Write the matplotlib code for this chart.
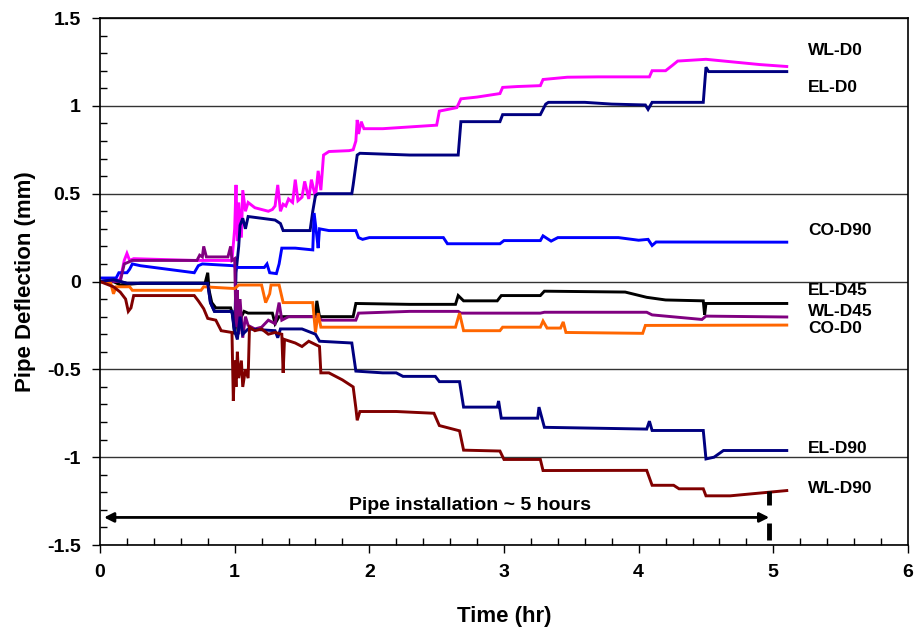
import matplotlib
matplotlib.use("Agg")
import matplotlib.pyplot as plt
import matplotlib.ticker as mticker

plt.rcParams["font.family"] = ["Liberation Sans", "DejaVu Sans"]
plt.rcParams["font.weight"] = "bold"

# ── Data (time in hr, deflection in mm) ───────────────────────────────────────

wl_d0 = [(0, 0), (0.15, 0.01), (0.18, 0.12), (0.2, 0.16), (0.22, 0.12), (0.25, 0.13),
         (0.7, 0.12), (0.98, 0.12), (1.0, 0.3), (1.01, 0.55), (1.02, 0.23), (1.03, 0.45),
         (1.05, 0.25), (1.06, 0.52), (1.08, 0.40), (1.1, 0.45), (1.15, 0.42), (1.25, 0.40),
         (1.28, 0.41), (1.3, 0.43), (1.32, 0.55), (1.34, 0.40), (1.36, 0.44), (1.38, 0.43),
         (1.4, 0.47), (1.43, 0.45), (1.45, 0.58), (1.47, 0.46), (1.5, 0.48), (1.52, 0.57),
         (1.55, 0.47), (1.57, 0.58), (1.6, 0.48), (1.62, 0.63), (1.64, 0.52), (1.66, 0.72),
         (1.7, 0.74), (1.85, 0.745), (1.88, 0.75), (1.9, 0.80), (1.91, 0.92), (1.92, 0.84),
         (1.94, 0.91), (1.96, 0.87), (2.1, 0.87), (2.3, 0.88), (2.5, 0.89), (2.52, 0.97),
         (2.65, 0.99), (2.68, 1.04), (2.8, 1.05), (2.97, 1.07), (2.99, 1.105), (3.1, 1.11),
         (3.27, 1.115), (3.29, 1.15), (3.47, 1.163), (3.7, 1.165), (4.08, 1.165),
         (4.1, 1.20), (4.2, 1.20), (4.25, 1.23), (4.29, 1.255), (4.5, 1.265), (4.7, 1.25),
         (4.9, 1.235), (5.1, 1.224)]

el_d0 = [(0, 0), (0.1, 0.01), (0.2, -0.01), (0.8, -0.01), (0.82, -0.12), (0.85, -0.17),
         (0.98, -0.17), (1.0, -0.3), (1.01, 0.05), (1.03, 0.2), (1.04, 0.32), (1.06, 0.36),
         (1.08, 0.30), (1.1, 0.37), (1.2, 0.36), (1.3, 0.35), (1.34, 0.33), (1.36, 0.29),
         (1.56, 0.29), (1.58, 0.40), (1.6, 0.49), (1.62, 0.5), (1.87, 0.5), (1.88, 0.55),
         (1.91, 0.72), (1.93, 0.73), (2.3, 0.72), (2.66, 0.72), (2.68, 0.91), (2.97, 0.91),
         (2.99, 0.95), (3.27, 0.95), (3.31, 1.01), (3.33, 1.02), (3.6, 1.02), (3.8, 1.01),
         (4.05, 1.005), (4.07, 0.98), (4.1, 1.02), (4.48, 1.02), (4.5, 1.22), (4.52, 1.195),
         (5.1, 1.195)]

co_d90 = [(0, 0.02), (0.12, 0.02), (0.14, 0.05), (0.2, 0.05), (0.22, 0.07), (0.24, 0.10),
          (0.3, 0.09), (0.4, 0.08), (0.5, 0.07), (0.6, 0.06), (0.7, 0.05), (0.73, 0.09),
          (0.76, 0.10), (0.99, 0.09), (1.02, 0.08), (1.22, 0.08), (1.24, 0.10), (1.26, 0.05),
          (1.31, 0.045), (1.33, 0.10), (1.35, 0.19), (1.45, 0.19), (1.58, 0.18),
          (1.59, 0.39), (1.61, 0.26), (1.62, 0.19), (1.63, 0.30), (1.7, 0.29), (1.9, 0.29),
          (1.92, 0.25), (1.95, 0.24), (2.0, 0.25), (2.55, 0.25), (2.58, 0.215),
          (2.97, 0.215), (3.0, 0.233), (3.27, 0.233), (3.29, 0.26), (3.35, 0.23),
          (3.4, 0.25), (3.85, 0.25), (4.0, 0.235), (4.07, 0.24), (4.1, 0.205),
          (4.13, 0.225), (5.1, 0.224)]

el_d45 = [(0, 0), (0.1, 0), (0.15, -0.02), (0.3, -0.01), (0.78, -0.01), (0.8, 0.05),
          (0.81, -0.05), (0.83, -0.12), (0.86, -0.15), (0.97, -0.15), (0.99, -0.2),
          (1.0, -0.3), (1.02, -0.15), (1.03, -0.28), (1.05, -0.2), (1.07, -0.17),
          (1.1, -0.18), (1.28, -0.18), (1.3, -0.24), (1.33, -0.2), (1.6, -0.2),
          (1.61, -0.11), (1.63, -0.2), (1.88, -0.2), (1.9, -0.125), (2.3, -0.13),
          (2.64, -0.13), (2.66, -0.08), (2.7, -0.11), (2.95, -0.11), (2.98, -0.08),
          (3.27, -0.08), (3.3, -0.055), (3.9, -0.06), (4.06, -0.09), (4.2, -0.105),
          (4.48, -0.11), (4.49, -0.19), (4.5, -0.125), (5.1, -0.125)]

wl_d45 = [(0, 0), (0.15, 0.0), (0.18, 0.1), (0.24, 0.12), (0.72, 0.12), (0.74, 0.15),
          (0.76, 0.14), (0.77, 0.20), (0.79, 0.14), (0.95, 0.14), (0.97, 0.20),
          (0.98, 0.12), (1.0, 0.13), (1.01, -0.26), (1.02, -0.05), (1.03, -0.3),
          (1.04, -0.1), (1.06, -0.32), (1.08, -0.2), (1.1, -0.25), (1.15, -0.27),
          (1.2, -0.26), (1.25, -0.22), (1.3, -0.24), (1.33, -0.12), (1.35, -0.22),
          (1.4, -0.2), (1.6, -0.2), (1.65, -0.22), (1.9, -0.22), (1.92, -0.18),
          (2.3, -0.17), (2.66, -0.17), (2.68, -0.18), (3.27, -0.18), (3.3, -0.175),
          (4.06, -0.175), (4.1, -0.19), (4.47, -0.216), (4.5, -0.197), (5.1, -0.202)]

co_d0 = [(0, 0), (0.08, -0.01), (0.1, -0.07), (0.12, -0.03), (0.22, -0.03),
         (0.24, -0.05), (0.75, -0.05), (0.77, -0.03), (1.0, -0.04), (1.03, -0.02),
         (1.2, -0.02), (1.23, -0.12), (1.26, -0.07), (1.27, -0.02), (1.33, -0.02),
         (1.36, -0.12), (1.58, -0.12), (1.6, -0.29), (1.62, -0.18), (1.64, -0.26),
         (2.3, -0.26), (2.64, -0.26), (2.67, -0.18), (2.7, -0.28), (2.97, -0.28),
         (2.99, -0.26), (3.27, -0.26), (3.29, -0.225), (3.32, -0.265), (3.42, -0.265),
         (3.44, -0.23), (3.46, -0.29), (4.03, -0.295), (4.05, -0.25), (5.1, -0.248)]

el_d90 = [(0, 0), (0.1, 0.01), (0.2, -0.01), (0.8, -0.01), (0.82, -0.12), (0.85, -0.17),
          (0.98, -0.17), (1.0, -0.28), (1.02, -0.33), (1.04, -0.2), (1.06, -0.3),
          (1.1, -0.27), (1.3, -0.28), (1.32, -0.32), (1.34, -0.27), (1.5, -0.27),
          (1.6, -0.3), (1.63, -0.34), (1.87, -0.35), (1.9, -0.51), (2.1, -0.52),
          (2.2, -0.52), (2.25, -0.54), (2.49, -0.54), (2.52, -0.57), (2.67, -0.57),
          (2.7, -0.715), (2.95, -0.715), (2.96, -0.68), (2.98, -0.778), (3.25, -0.778),
          (3.26, -0.715), (3.3, -0.83), (4.06, -0.84), (4.08, -0.795), (4.1, -0.848),
          (4.48, -0.848), (4.5, -1.01), (4.56, -1.0), (4.63, -0.962), (5.1, -0.962)]

wl_d90 = [(0, 0), (0.1, -0.03), (0.15, -0.06), (0.19, -0.1), (0.21, -0.17), (0.23, -0.15),
          (0.25, -0.08), (0.7, -0.08), (0.73, -0.11), (0.77, -0.155), (0.8, -0.21),
          (0.86, -0.22), (0.9, -0.28), (0.98, -0.29), (0.99, -0.68), (1.0, -0.45),
          (1.01, -0.6), (1.02, -0.4), (1.03, -0.55), (1.05, -0.45), (1.06, -0.6),
          (1.08, -0.5), (1.1, -0.55), (1.11, -0.26), (1.15, -0.28), (1.2, -0.27),
          (1.25, -0.3), (1.3, -0.29), (1.35, -0.3), (1.36, -0.52), (1.37, -0.33),
          (1.45, -0.35), (1.5, -0.37), (1.55, -0.34), (1.63, -0.37), (1.64, -0.52),
          (1.7, -0.52), (1.8, -0.56), (1.88, -0.6), (1.9, -0.72), (1.91, -0.79),
          (1.93, -0.74), (2.2, -0.74), (2.48, -0.75), (2.52, -0.82), (2.67, -0.85),
          (2.7, -0.96), (2.97, -0.965), (3.0, -1.013), (3.27, -1.013), (3.29, -1.076),
          (4.06, -1.075), (4.1, -1.16), (4.26, -1.16), (4.3, -1.18), (4.48, -1.18),
          (4.5, -1.22), (4.68, -1.22), (5.1, -1.19)]

# name, data, colour, label y position
series = [
    ("WL-D0",  wl_d0,  "#FF00FF", 1.315),
    ("EL-D0",  el_d0,  "#000080", 1.104),
    ("CO-D90", co_d90, "#0000FF", 0.29),
    ("EL-D45", el_d45, "#000000", -0.05),
    ("WL-D45", wl_d45, "#800080", -0.17),
    ("CO-D0",  co_d0,  "#FF6600", -0.27),
    ("EL-D90", el_d90, "#000080", -0.95),
    ("WL-D90", wl_d90, "#800000", -1.18),
]

install_end = 4.97

# ── Plot ──────────────────────────────────────────────────────────────────────

fig = plt.figure(figsize=(9.15, 6.3), dpi=100)
ax = fig.add_axes([0.1093, 0.1349, 0.8830, 0.8365])

for name, pts, color, ylab in series:
    t, y = zip(*pts)
    ax.plot(t, y, color=color, lw=2.1, solid_joinstyle="miter")
    ax.text(5.26, ylab, name, fontsize=12.5, fontweight="bold",
            va="center", ha="left", clip_on=False)

ax.set_xlim(0, 6)
ax.set_ylim(-1.5, 1.5)
ax.xaxis.set_major_locator(mticker.MultipleLocator(1))
ax.xaxis.set_minor_locator(mticker.MultipleLocator(0.2))
ax.yaxis.set_major_locator(mticker.MultipleLocator(0.5))
ax.yaxis.set_minor_locator(mticker.MultipleLocator(0.1))
ax.yaxis.set_major_formatter(mticker.FuncFormatter(lambda v, _: f"{v:g}"))
ax.xaxis.set_major_formatter(mticker.FuncFormatter(lambda v, _: f"{v:g}"))
ax.tick_params(which="major", direction="out", length=6, width=1,
               labelsize=14, pad=8)
ax.tick_params(which="minor", direction="in", length=5, width=1)
for lbl in ax.get_xticklabels() + ax.get_yticklabels():
    lbl.set_fontweight("bold")

ax.grid(True, axis="y", which="major", color="#333333", lw=1)
ax.set_axisbelow(True)
for sp in ax.spines.values():
    sp.set_linewidth(1.2)

ax.set_xlabel("Time (hr)", fontsize=16, fontweight="bold", labelpad=18)
ax.set_ylabel("Pipe Deflection (mm)", fontsize=16, fontweight="bold", labelpad=8)

# installation period marker
ax.annotate("", xy=(0.03, -1.343), xytext=(install_end, -1.343),
            arrowprops=dict(arrowstyle="<|-|>", color="black", lw=2,
                            mutation_scale=14, shrinkA=0, shrinkB=0))
ax.text(2.75, -1.322, "Pipe installation ~ 5 hours", fontsize=14,
        fontweight="bold", ha="center", va="bottom")
ax.vlines(install_end, -1.275, -1.19, color="black", lw=3.5)
ax.vlines(install_end, -1.474, -1.372, color="black", lw=3.5)

fig.savefig("out.png", dpi=100, facecolor="white")
